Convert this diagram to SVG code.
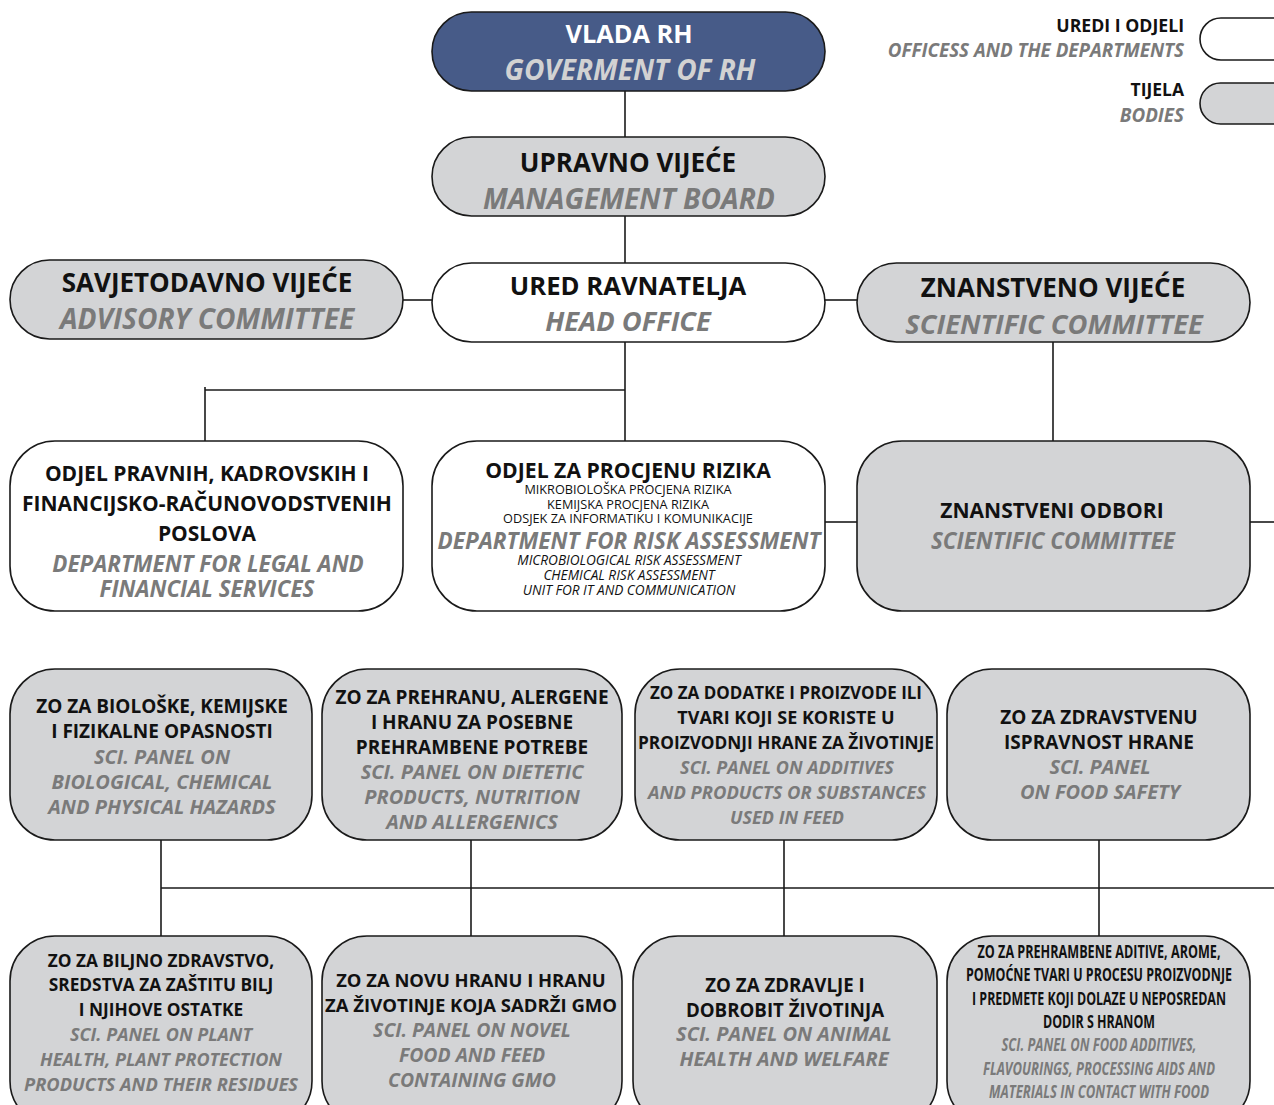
<svg xmlns="http://www.w3.org/2000/svg" width="1274" height="1105" viewBox="0 0 1274 1105">
<style>
.box{stroke:#1a1a1a;stroke-width:1.6}
.w{fill:#ffffff}
.g{fill:#d3d4d6}
.b{fill:#475b88}
text{font-family:"Open Sans","DejaVu Sans",sans-serif;text-anchor:middle}
.h{font-weight:700;fill:#111}
.e{font-weight:700;font-style:italic;fill:#7a7a7a}
.s{font-weight:400;fill:#111;font-size:12.7px}
.si{font-weight:400;font-style:italic;fill:#111;font-size:13.6px}
.r3{font-size:19px}
.r3e{font-size:20px}
.r2{font-size:21px}
.r2e{font-size:22.4px}
.cd{font-size:17px}
.c{stroke:#1a1a1a;stroke-width:1.6;fill:none}
</style>
<rect width="1274" height="1105" fill="#ffffff"/>
<g id="connectors">
<line class="c" x1="625" y1="91" x2="625" y2="137"/>
<line class="c" x1="625" y1="216" x2="625" y2="263"/>
<line class="c" x1="625" y1="342" x2="625" y2="441"/>
<line class="c" x1="403" y1="300" x2="432" y2="300"/>
<line class="c" x1="825" y1="300" x2="857" y2="300"/>
<polyline class="c" points="205,441 205,387"/>
<line class="c" x1="205" y1="390" x2="625" y2="390"/>
<line class="c" x1="1053" y1="342" x2="1053" y2="441"/>
<line class="c" x1="825" y1="522" x2="857" y2="522"/>
<line class="c" x1="1250" y1="522" x2="1274" y2="522"/>
<line class="c" x1="161" y1="840" x2="161" y2="936"/>
<line class="c" x1="471" y1="840" x2="471" y2="936"/>
<line class="c" x1="784" y1="840" x2="784" y2="936"/>
<line class="c" x1="1099" y1="840" x2="1099" y2="936"/>
<line class="c" x1="161" y1="888" x2="1274" y2="888"/>
</g>
<g id="legend">
<rect class="box w" x="1200" y="18" width="110" height="42" rx="21"/>
<rect class="box g" x="1200" y="83" width="110" height="41" rx="20.5"/>
<text class="h" x="1184" y="32" style="text-anchor:end;font-size:17.7px">UREDI I ODJELI</text>
<text class="e" x="1184" y="57" style="text-anchor:end;font-size:18.8px">OFFICESS AND THE DEPARTMENTS</text>
<text class="h" x="1184" y="96" style="text-anchor:end;font-size:17.5px">TIJELA</text>
<text class="e" x="1184" y="122" style="text-anchor:end;font-size:18.8px">BODIES</text>
</g>
<g id="vlada">
<rect class="box b" x="432" y="12" width="393" height="79" rx="39.5"/>
<text class="h" x="629" y="43" style="font-size:25.3px;fill:#ffffff">VLADA RH</text>
<text class="e" x="630" y="80" style="font-size:28px;fill:#d2d2d2">GOVERMENT OF RH</text>
</g>
<g id="upravno">
<rect class="box g" x="432" y="137" width="393" height="79" rx="39.5"/>
<text class="h" x="628" y="172" style="font-size:26px">UPRAVNO VIJEĆE</text>
<text class="e" x="629" y="209" style="font-size:28.2px">MANAGEMENT BOARD</text>
</g>
<g id="ured">
<rect class="box w" x="432" y="263" width="393" height="79" rx="39.5"/>
<text class="h" x="628" y="295" style="font-size:25.7px">URED RAVNATELJA</text>
<text class="e" x="628" y="331" style="font-size:27.3px">HEAD OFFICE</text>
</g>
<g id="savjetodavno">
<rect class="box g" x="10" y="260" width="393" height="79" rx="39.5"/>
<text class="h" x="207" y="292" style="font-size:26px">SAVJETODAVNO VIJEĆE</text>
<text class="e" x="207" y="329" style="font-size:28.1px">ADVISORY COMMITTEE</text>
</g>
<g id="znanstveno">
<rect class="box g" x="857" y="263" width="393" height="79" rx="39.5"/>
<text class="h" x="1053" y="297" style="font-size:26px">ZNANSTVENO VIJEĆE</text>
<text class="e" x="1054" y="334" style="font-size:27.3px">SCIENTIFIC COMMITTEE</text>
</g>
<g id="odjel-pravnih">
<rect class="box w" x="10" y="441" width="393" height="170" rx="45"/>
<text class="h r2" x="207" y="481">ODJEL PRAVNIH, KADROVSKIH I</text>
<text class="h r2" x="207" y="511">FINANCIJSKO-RAČUNOVODSTVENIH</text>
<text class="h r2" x="207" y="541">POSLOVA</text>
<text class="e r2e" x="208" y="572">DEPARTMENT FOR LEGAL AND</text>
<text class="e r2e" x="207" y="597">FINANCIAL SERVICES</text>
</g>
<g id="odjel-rizik">
<rect class="box w" x="432" y="441" width="393" height="170" rx="45"/>
<text class="h" x="628" y="478" style="font-size:21.2px">ODJEL ZA PROCJENU RIZIKA</text>
<text class="s" x="628" y="494">MIKROBIOLOŠKA PROCJENA RIZIKA</text>
<text class="s" x="628" y="509">KEMIJSKA PROCJENA RIZIKA</text>
<text class="s" x="628" y="523">ODSJEK ZA INFORMATIKU I KOMUNIKACIJE</text>
<text class="e" x="629" y="549" style="font-size:22.5px">DEPARTMENT FOR RISK ASSESSMENT</text>
<text class="si" x="629" y="565">MICROBIOLOGICAL RISK ASSESSMENT</text>
<text class="si" x="629" y="580">CHEMICAL RISK ASSESSMENT</text>
<text class="si" x="629" y="595">UNIT FOR IT AND COMMUNICATION</text>
</g>
<g id="znanstveni-odbori">
<rect class="box g" x="857" y="441" width="393" height="170" rx="45"/>
<text class="h r2" x="1052" y="518">ZNANSTVENI ODBORI</text>
<text class="e r2e" x="1053" y="549">SCIENTIFIC COMMITTEE</text>
</g>
<g id="zo-bioloske">
<rect class="box g" x="10" y="669" width="302" height="171" rx="45"/>
<text class="h r3" x="162" y="713">ZO ZA BIOLOŠKE, KEMIJSKE</text>
<text class="h r3" x="162" y="738">I FIZIKALNE OPASNOSTI</text>
<text class="e r3e" x="162" y="764">SCI. PANEL ON</text>
<text class="e r3e" x="162" y="789">BIOLOGICAL, CHEMICAL</text>
<text class="e r3e" x="162" y="814">AND PHYSICAL HAZARDS</text>
</g>
<g id="zo-prehranu">
<rect class="box g" x="322" y="669" width="300" height="171" rx="45"/>
<text class="h r3" x="472" y="704">ZO ZA PREHRANU, ALERGENE</text>
<text class="h r3" x="472" y="729">I HRANU ZA POSEBNE</text>
<text class="h r3" x="472" y="754">PREHRAMBENE POTREBE</text>
<text class="e r3e" x="472" y="779">SCI. PANEL ON DIETETIC</text>
<text class="e r3e" x="472" y="804">PRODUCTS, NUTRITION</text>
<text class="e r3e" x="472" y="829">AND ALLERGENICS</text>
</g>
<g id="zo-dodatke">
<rect class="box g" x="635" y="669" width="302" height="171" rx="45"/>
<text class="h" x="786" y="699" style="font-size:18px" textLength="272" lengthAdjust="spacingAndGlyphs">ZO ZA DODATKE I PROIZVODE ILI</text>
<text class="h" x="786" y="724" style="font-size:18px">TVARI KOJI SE KORISTE U</text>
<text class="h" x="786" y="749" style="font-size:18px" textLength="296" lengthAdjust="spacingAndGlyphs">PROIZVODNJI HRANE ZA ŽIVOTINJE</text>
<text class="e" x="787" y="774" style="font-size:18px">SCI. PANEL ON ADDITIVES</text>
<text class="e" x="787" y="799" style="font-size:18px" textLength="278" lengthAdjust="spacingAndGlyphs">AND PRODUCTS OR SUBSTANCES</text>
<text class="e" x="787" y="824" style="font-size:18px">USED IN FEED</text>
</g>
<g id="zo-zdravstvenu">
<rect class="box g" x="947" y="669" width="303" height="171" rx="45"/>
<text class="h r3" x="1099" y="724">ZO ZA ZDRAVSTVENU</text>
<text class="h r3" x="1099" y="749">ISPRAVNOST HRANE</text>
<text class="e r3e" x="1100" y="774">SCI. PANEL</text>
<text class="e r3e" x="1100" y="799">ON FOOD SAFETY</text>
</g>
<g id="zo-biljno">
<rect class="box g" x="10" y="936" width="302" height="190" rx="45"/>
<text class="h" x="161" y="967" style="font-size:17.3px">ZO ZA BILJNO ZDRAVSTVO,</text>
<text class="h" x="161" y="991" style="font-size:17.3px">SREDSTVA ZA ZAŠTITU BILJ</text>
<text class="h" x="161" y="1016" style="font-size:17.3px">I NJIHOVE OSTATKE</text>
<text class="e" x="161" y="1041" style="font-size:18px">SCI. PANEL ON PLANT</text>
<text class="e" x="161" y="1066" style="font-size:18px">HEALTH, PLANT PROTECTION</text>
<text class="e" x="161" y="1091" style="font-size:18px" textLength="274" lengthAdjust="spacingAndGlyphs">PRODUCTS AND THEIR RESIDUES</text>
</g>
<g id="zo-novu-hranu">
<rect class="box g" x="322" y="936" width="300" height="190" rx="45"/>
<text class="h" x="471" y="987" style="font-size:18.4px">ZO ZA NOVU HRANU I HRANU</text>
<text class="h" x="471" y="1012" style="font-size:18.4px" textLength="292" lengthAdjust="spacingAndGlyphs">ZA ŽIVOTINJE KOJA SADRŽI GMO</text>
<text class="e" x="472" y="1037" style="font-size:19.4px">SCI. PANEL ON NOVEL</text>
<text class="e" x="472" y="1062" style="font-size:19.4px">FOOD AND FEED</text>
<text class="e" x="472" y="1087" style="font-size:19.4px">CONTAINING GMO</text>
</g>
<g id="zo-zdravlje">
<rect class="box g" x="633" y="936" width="304" height="190" rx="45"/>
<text class="h" x="785" y="992" style="font-size:18.7px">ZO ZA ZDRAVLJE I</text>
<text class="h" x="785" y="1017" style="font-size:18.7px">DOBROBIT ŽIVOTINJA</text>
<text class="e r3e" x="784" y="1041">SCI. PANEL ON ANIMAL</text>
<text class="e r3e" x="784" y="1066">HEALTH AND WELFARE</text>
</g>
<g id="zo-aditive">
<rect class="box g" x="947" y="936" width="303" height="190" rx="45"/>
<text class="h cd" transform="translate(1099,958) scale(0.78,1)" x="0" y="0" textLength="311.5" lengthAdjust="spacingAndGlyphs">ZO ZA PREHRAMBENE ADITIVE, AROME,</text>
<text class="h cd" transform="translate(1099,981) scale(0.78,1)" x="0" y="0" textLength="341" lengthAdjust="spacingAndGlyphs">POMOĆNE TVARI U PROCESU PROIZVODNJE</text>
<text class="h cd" transform="translate(1099,1005) scale(0.78,1)" x="0" y="0" textLength="325.6" lengthAdjust="spacingAndGlyphs">I PREDMETE KOJI DOLAZE U NEPOSREDAN</text>
<text class="h cd" transform="translate(1099,1028) scale(0.78,1)" x="0" y="0" textLength="143.6" lengthAdjust="spacingAndGlyphs">DODIR S HRANOM</text>
<text class="e cd" transform="translate(1099,1051) scale(0.78,1)" x="0" y="0" textLength="250" lengthAdjust="spacingAndGlyphs">SCI. PANEL ON FOOD ADDITIVES,</text>
<text class="e cd" transform="translate(1099,1075) scale(0.78,1)" x="0" y="0" textLength="297.4" lengthAdjust="spacingAndGlyphs">FLAVOURINGS, PROCESSING AIDS AND</text>
<text class="e cd" transform="translate(1099,1098) scale(0.78,1)" x="0" y="0" textLength="282" lengthAdjust="spacingAndGlyphs">MATERIALS IN CONTACT WITH FOOD</text>
</g>
</svg>
